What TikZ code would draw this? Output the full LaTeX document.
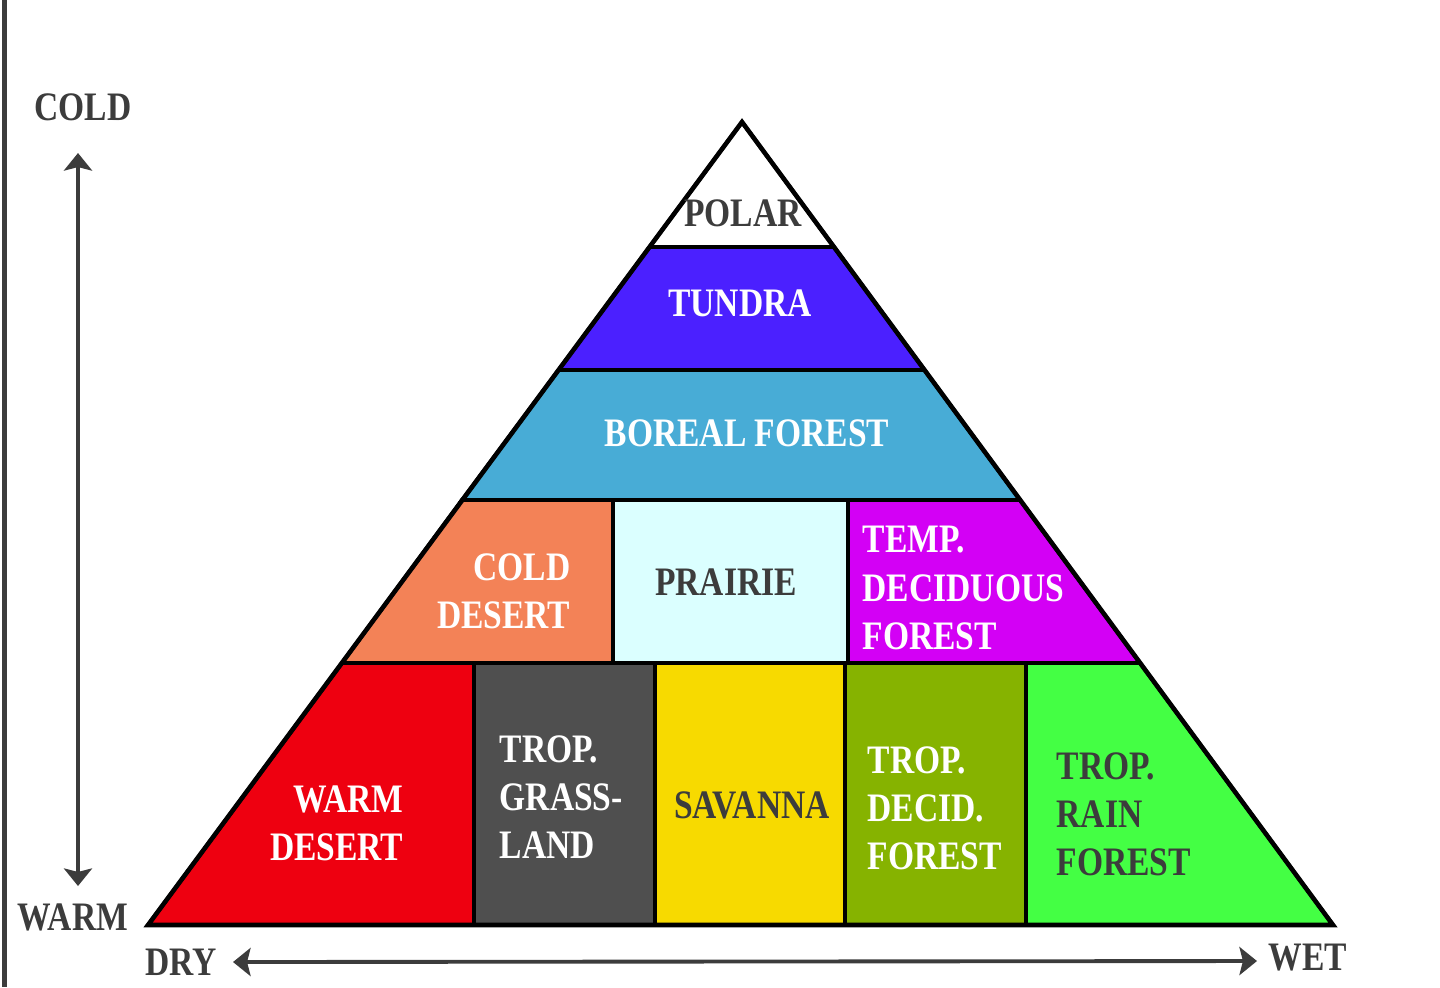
\documentclass[tikz,border=0pt]{standalone}
\usepackage{fontspec}
\setmainfont{Liberation Serif}[FakeStretch=0.83]
\usetikzlibrary{arrows.meta}
\definecolor{txtgray}{HTML}{3C3C3C}
\definecolor{tundra}{HTML}{4B20FF}
\definecolor{boreal}{HTML}{48ACD6}
\definecolor{colddesert}{HTML}{F38257}
\definecolor{prairie}{HTML}{DBFFFF}
\definecolor{tempdecid}{HTML}{D300F5}
\definecolor{warmdesert}{HTML}{EE0010}
\definecolor{tropgrass}{HTML}{4F4F4F}
\definecolor{savanna}{HTML}{F7DA00}
\definecolor{tropdecid}{HTML}{86B300}
\definecolor{rainforest}{HTML}{44FF44}
\tikzset{
  biome/.style={draw=black,line width=1.1pt},
  lbl/.style={font=\bfseries\fontsize{11.5}{13.7}\selectfont,inner sep=0pt,text=white},
  dark/.style={text=txtgray},
  axis/.style={{Stealth[length=5pt,width=8pt,inset=1pt]}-{Stealth[length=5pt,width=8pt,inset=1pt]},line width=1.1pt,draw=txtgray}
}
\begin{document}
\begin{tikzpicture}[x=0.01cm,y=-0.01cm]
\useasboundingbox(0,0)rectangle(1440,987);
\fill[txtgray](2,0)rectangle(7,987);
\coordinate(top)at(742,122);
\coordinate(L1)at(649.5,247);\coordinate(R1)at(834,247);
\coordinate(L2)at(558.6,370);\coordinate(R2)at(924.5,370);
\coordinate(L3)at(462,500);\coordinate(R3)at(1020,500);
\coordinate(L4)at(342,663);\coordinate(R4)at(1140,663);
\coordinate(BL)at(148,925);\coordinate(BR)at(1333,925);
\draw[biome,fill=white](top)--(R1)--(L1)--cycle;
\draw[biome,fill=tundra](L1)--(R1)--(R2)--(L2)--cycle;
\draw[biome,fill=boreal](L2)--(R2)--(R3)--(L3)--cycle;
\draw[biome,fill=colddesert](L3)--(613,500)--(613,663)--(L4)--cycle;
\draw[biome,fill=prairie](613,500)rectangle(848,663);
\draw[biome,fill=tempdecid](848,500)--(R3)--(R4)--(848,663)--cycle;
\draw[biome,fill=warmdesert](L4)--(474,663)--(474,925)--(BL)--cycle;
\draw[biome,fill=tropgrass](474,663)rectangle(655,925);
\draw[biome,fill=savanna](655,663)rectangle(845,925);
\draw[biome,fill=tropdecid](845,663)rectangle(1026,925);
\draw[biome,fill=rainforest](1026,663)--(R4)--(BR)--(1026,925)--cycle;
\draw[line width=1.3pt,line join=miter](top)--(BL)--(BR)--cycle;
\node[lbl,dark](polar)at(743,213){POLAR};
\node[lbl](tundra)at(740,303){TUNDRA};
\node[lbl](boreal)at(747,433){BOREAL FOREST};
\node[lbl,align=right,anchor=east](cdesert)at(571,591){COLD\\DESERT};
\node[lbl,dark](prairie)at(726,582){PRAIRIE};
\node[lbl,align=left,anchor=west](temp)at(862,588){TEMP.\\DECIDUOUS\\FOREST};
\node[lbl,align=right,anchor=east](wdesert)at(404,823){WARM\\DESERT};
\node[lbl,align=left,anchor=west](grass)at(499,797){TROP.\\GRASS-\\LAND};
\node[lbl,dark](savanna)at(752,805){SAVANNA};
\node[lbl,align=left,anchor=west](tdecid)at(867,808){TROP.\\DECID.\\FOREST};
\node[lbl,dark,align=left,anchor=west](rain)at(1056,814){TROP.\\RAIN\\FOREST};
\node[lbl,dark](cold)at(83,107){COLD};
\node[lbl,dark](warm)at(73,917){WARM};
\node[lbl,dark](dry)at(181,962){DRY};
\node[lbl,dark](wet)at(1308,958){WET};
\coordinate(coldend)at(78,153);
\coordinate(warmend)at(78,886);
\coordinate(dryend)at(233,962);
\coordinate(wetend)at(1257,961);
\draw[axis](coldend)--(warmend);
\draw[axis](dryend)--(wetend);
\end{tikzpicture}
\end{document}
